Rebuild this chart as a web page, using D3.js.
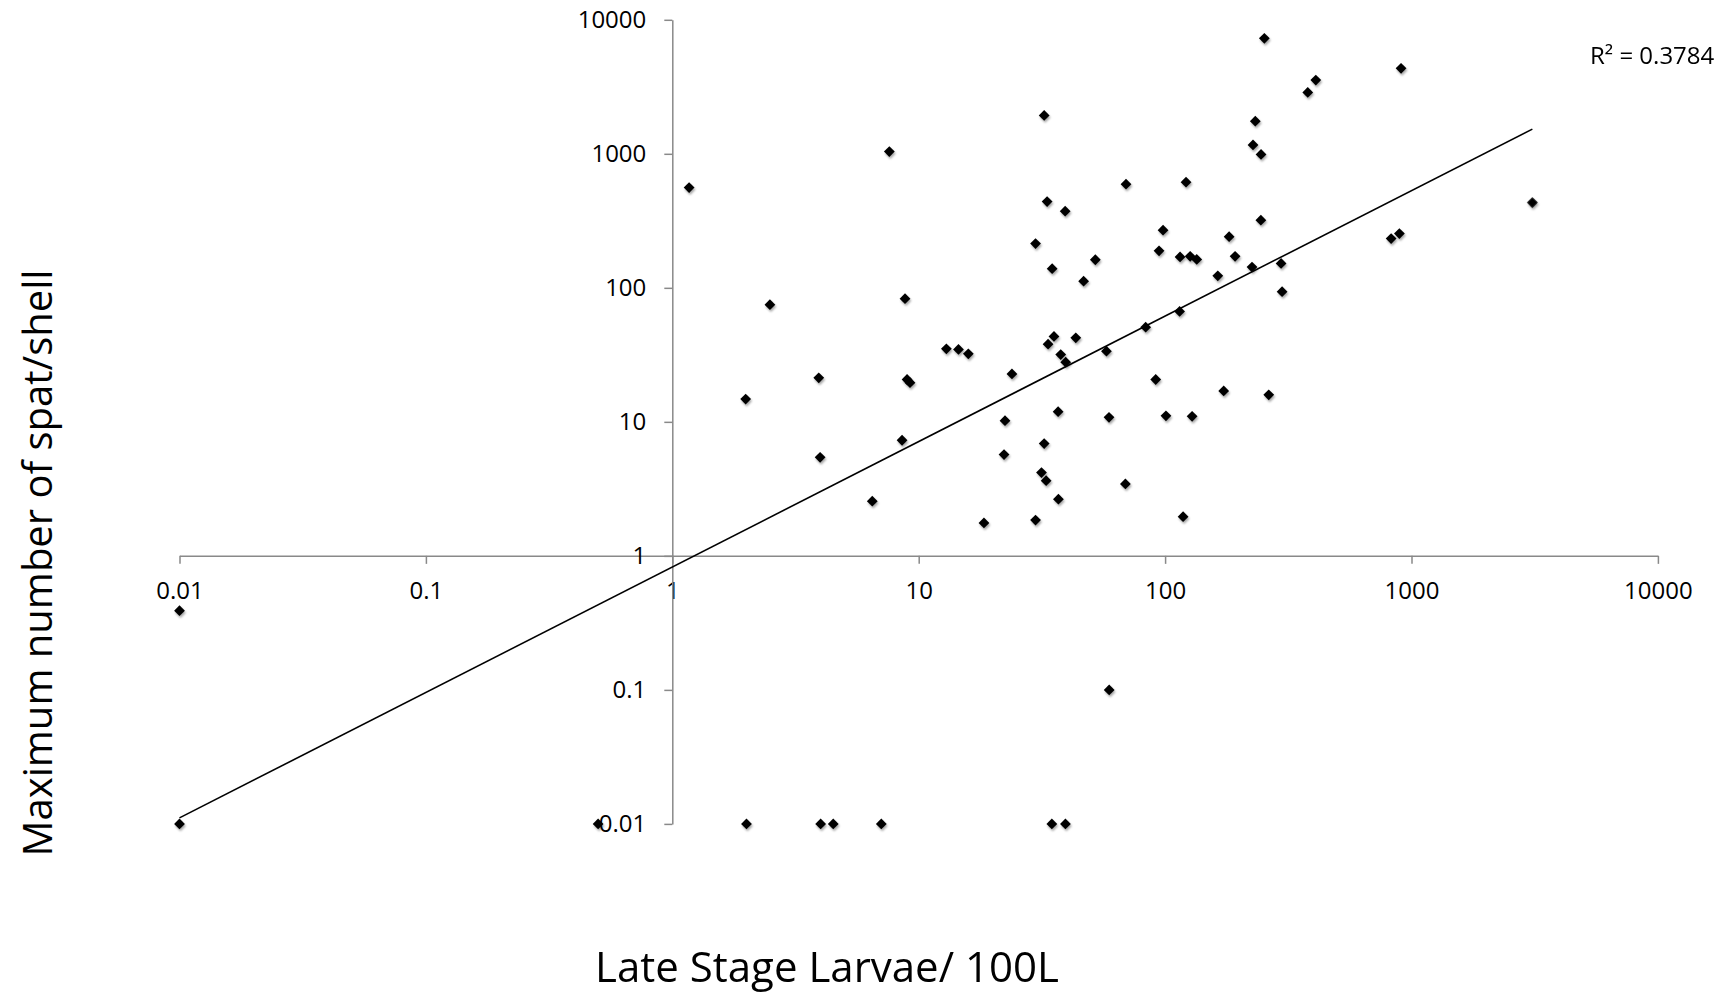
<!DOCTYPE html>
<html>
<head>
	<title>Late stage larvae vs spat</title>
	<script src="https://d3js.org/d3.v7.min.js" charset="utf-8"></script>
	<style>
		body { margin: 0; background: #fff; }
		text { font-family: "Open Sans", sans-serif; fill: #000; }
	</style>
</head>
<body>
	<script>
		// late stage larvae / 100L (x) and max spat per shell (y)
		var larvae = [0.01, 0.01, 0.5, 1.17, 2.0, 1.985, 2.49, 3.93, 3.98, 4.0,
			4.5, 6.48, 7.05, 7.6, 8.56, 8.8, 8.97, 9.22, 12.95, 14.5,
			15.9, 18.4, 22.4, 22.2, 23.9, 29.8, 29.8, 31.5, 32.3, 32.3,
			32.9, 33.2, 33.5, 34.7, 34.8, 35.4, 36.9, 36.8, 37.7, 39.3,
			39.5, 39.4, 43.4, 46.7, 52.1, 57.8, 59.3, 59.2, 69.0, 69.4,
			83.4, 91.6, 94.5, 98.1, 100.8, 115, 114.5, 118.3, 121.6, 126.4,
			128.7, 134.4, 163.6, 172.9, 181.9, 192.3, 225.3, 227.4, 232.3, 245.1,
			244.7, 252.8, 263.4, 295.6, 298.4, 379.3, 408.9, 826.7, 893, 907,
			3094];
		var spat = [0.39, 0.01, 0.01, 560, 0.01, 14.8, 74.8, 21.3, 5.44, 0.01,
			0.01, 2.56, 0.01, 1040, 7.29, 83.0, 20.7, 19.6, 35.1, 34.7,
			32.2, 1.76, 10.2, 5.70, 22.8, 214, 1.85, 4.18, 1933, 6.88,
			3.64, 440, 38.0, 0.01, 139, 43.4, 2.65, 11.9, 31.8, 373,
			27.9, 0.01, 42.4, 112, 162, 33.7, 0.1, 10.8, 3.44, 593,
			50.9, 20.7, 189, 269, 11.1, 170, 66.7, 1.96, 614, 172,
			11.0, 163, 123, 17.0, 241, 172, 143, 1166, 1752, 989,
			320, 7274, 15.9, 152, 93.6, 2873, 3553, 233, 254, 4345,
			433];

		var tickValues = [0.01, 0.1, 1, 10, 100, 1000, 10000];
		var tickLabels = ["0.01", "0.1", "1", "10", "100", "1000", "10000"];

		// power trendline y = a * x^b, as drawn in the picture
		var trendA = 0.826,
			trendB = 0.936,
			trendLabel = "R\u00B2 = 0.3784";

		var xTitle = "Late Stage Larvae/ 100L",
			yTitle = "Maximum number of spat/shell";

		var svgWidth = 1727,
			svgHeight = 995,
			svg = d3.select("body")
				.append("svg")
				.attr("width", svgWidth)
				.attr("height", svgHeight);

		var x = d3.scaleLog()
				.domain([0.01, 10000])
				.range([179.5, 1657.9]),
			y = d3.scaleLog()
				.domain([0.01, 10000])
				.range([823.9, 19.8]);

		var data = larvae.map(function(d, i) { return {x: d, y: spat[i]}; });

		// soft shadow under the markers
		var filter = svg.append("defs").append("filter")
			.attr("id", "shadow")
			.attr("x", "-50%").attr("y", "-50%")
			.attr("width", "200%").attr("height", "200%");
		filter.append("feDropShadow")
			.attr("dx", 1).attr("dy", 2)
			.attr("stdDeviation", 1.3)
			.attr("flood-color", "#000")
			.attr("flood-opacity", 0.35);

		// axes cross at 1,1
		var xAxis = svg.append("g")
			.attr("transform", "translate(0," + y(1) + ")")
			.call(d3.axisBottom(x)
				.tickValues(tickValues)
				.tickFormat(function(d, i) { return tickLabels[i]; })
				.tickSize(8)
				.tickSizeOuter(0)
				.tickPadding(18));

		var yAxis = svg.append("g")
			.attr("transform", "translate(" + x(1) + ",0)")
			.call(d3.axisLeft(y)
				.tickValues(tickValues)
				.tickFormat(function(d, i) { return tickLabels[i]; })
				.tickSize(8)
				.tickSizeOuter(0)
				.tickPadding(18));

		[xAxis, yAxis].forEach(function(a) {
			a.select(".domain").attr("stroke", "#898989").attr("stroke-width", 1.5);
			a.selectAll(".tick line").attr("stroke", "#898989").attr("stroke-width", 1.5);
			a.selectAll(".tick text")
				.attr("font-size", 24)
				.attr("font-family", "Open Sans, sans-serif")
				.attr("fill", "#000");
		});

		// trendline from smallest to largest x
		var xMin = d3.min(larvae), xMax = d3.max(larvae);
		var trend = [xMin, xMax].map(function(v) { return {x: v, y: trendA * Math.pow(v, trendB)}; });
		svg.append("path")
			.datum(trend)
			.attr("fill", "none")
			.attr("stroke", "#000")
			.attr("stroke-width", 1.6)
			.attr("d", d3.line()
				.x(function(d) { return x(d.x); })
				.y(function(d) { return y(d.y); }));

		// diamond markers
		var diamond = d3.symbol().type(d3.symbolSquare).size(58);
		svg.append("g")
			.attr("filter", "url(#shadow)")
			.selectAll("path")
			.data(data)
			.enter().append("path")
			.attr("d", diamond)
			.attr("fill", "#000")
			.attr("transform", function(d) {
				return "translate(" + x(d.x) + "," + y(d.y) + ") rotate(45)";
			});

		svg.append("text")
			.attr("x", 1590)
			.attr("y", 64)
			.attr("font-size", 24)
			.text(trendLabel);

		svg.append("text")
			.attr("x", 827)
			.attr("y", 982)
			.attr("text-anchor", "middle")
			.attr("font-size", 42)
			.text(xTitle);

		svg.append("text")
			.attr("transform", "translate(52,563) rotate(-90)")
			.attr("text-anchor", "middle")
			.attr("font-size", 40)
			.text(yTitle);
	</script>
</body>
</html>
